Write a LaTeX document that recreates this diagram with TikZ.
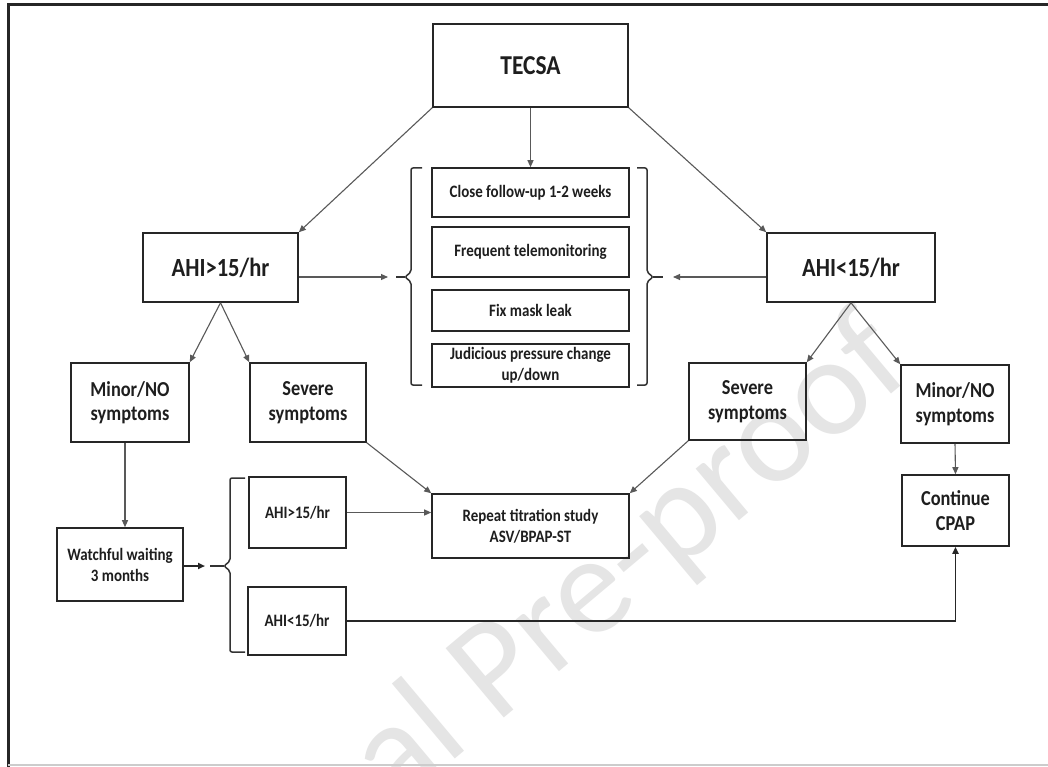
\documentclass[tikz,border=0pt]{standalone}
\usepackage{fontspec}
\setmainfont{Carlito}[FakeStretch=0.86]
\newfontfamily\wmfont{Carlito}
\usetikzlibrary{arrows.meta}
\definecolor{wmgray}{RGB}{229,229,229}
\definecolor{ink}{RGB}{30,30,30}
\begin{document}
\begin{tikzpicture}[x=1pt,y=-1pt,
  box/.style={draw=black!85, line width=1.6pt, inner sep=0pt, align=center,
    text=ink, font=\bfseries\fontsize{17.4}{21}\selectfont},
  big/.style={font=\bfseries\fontsize{26.2}{28}\selectfont},
  huge/.style={font=\bfseries\fontsize{27.3}{29}\selectfont},
  mid/.style={font=\bfseries\fontsize{21.3}{24.5}\selectfont},
  conn/.style={draw=black!65, line width=1.1pt, -{Triangle[length=7pt,width=6pt]}},
  thickconn/.style={draw=black!85, line width=1.8pt, -{Triangle[length=7pt,width=6pt]}},
  brk/.style={draw=black!80, line width=1.5pt, rounded corners=2pt},
  wm/.style={text=wmgray, inner sep=0pt, font=\wmfont\fontsize{141}{141}\selectfont}
]
\useasboundingbox (0,0) rectangle (1048,767);
\clip (0,0) rectangle (1048,767);
\fill[white] (0,0) rectangle (1048,767);

% watermark
\node[wm, rotate=40, anchor=base west] (wmk) at (153,1013) {Journal Pre-proof};

% frame
\draw[black!85, line width=3pt] (1048,5) -- (8,5) -- (8,767);
\draw[black!20, line width=1.5pt] (8,765) -- (1048,765);

% nodes
\node[box, huge, minimum width=195pt, minimum height=83pt] (tecsa) at (530.5,65.5) {TECSA};
\node[box, minimum width=197pt, minimum height=49pt] (c1) at (530.5,192.5) {Close follow-up 1-2 weeks};
\node[box, minimum width=197pt, minimum height=50pt] (c2) at (530.5,252) {Frequent telemonitoring};
\node[box, minimum width=197pt, minimum height=41pt] (c3) at (530.5,310.5) {Fix mask leak};
\node[box, minimum width=197pt, minimum height=43pt] (c4) at (530.5,365.5) {Judicious pressure change\\up/down};

\node[box, big, minimum width=155pt, minimum height=69pt] (ahiH) at (220.5,267.5) {AHI>15/hr};
\node[box, big, minimum width=168pt, minimum height=69pt] (ahiL) at (851,267.5) {AHI<15/hr};

\node[box, mid, minimum width=118pt, minimum height=79pt] (minL) at (130,402.5) {Minor/NO\\symptoms};
\node[box, mid, minimum width=116pt, minimum height=79pt] (sevL) at (308,402.5) {Severe\\symptoms};
\node[box, mid, minimum width=117pt, minimum height=77pt] (sevR) at (747.5,401.5) {Severe\\symptoms};
\node[box, mid, minimum width=108pt, minimum height=78pt] (minR) at (955,404) {Minor/NO\\symptoms};

\node[box, minimum width=126pt, minimum height=73pt] (watch) at (120,564.5) {Watchful waiting\\3 months};
\node[box, minimum width=97pt, minimum height=71pt] (smH) at (297.5,512.5) {AHI>15/hr};
\node[box, minimum width=98pt, minimum height=68pt] (smL) at (297,621) {AHI<15/hr};
\node[box, minimum width=197pt, minimum height=64pt] (rep) at (530.5,526) {Repeat titration study\\ASV/BPAP-ST};
\node[box, mid, minimum width=107pt, minimum height=71pt] (cont) at (955.5,510.5) {Continue\\CPAP};

% bracket end points
\coordinate (bLin) at (388,277);
\coordinate (bRin) at (673,277);
\coordinate (b2in) at (205,566);

% brackets
\draw[brk] (422,168) -- (411,168) -- (411,272) -- (405,277) -- (411,282) -- (411,385) -- (422,385);
\draw[brk] (405,277) -- (396,277);
\draw[brk] (637,168) -- (647,168) -- (647,272) -- (653,277) -- (647,282) -- (647,385) -- (637,385);
\draw[brk] (653,277) -- (663,277);
\draw[brk] (245,478) -- (230,478) -- (230,561) -- (224,566) -- (230,571) -- (230,652) -- (245,652);
\draw[brk] (224,566) -- (210,566);

% connectors
\draw[conn] (tecsa.south) -- (c1.north);
\draw[conn] (tecsa.south west) -- (ahiH.north east);
\draw[conn] (tecsa.south east) -- (ahiL.north west);
\draw[conn] (ahiH.east |- bLin) -- (bLin);
\draw[conn] (ahiL.west |- bRin) -- (bRin);
\draw[conn] (ahiH.south) -- (minL.north east);
\draw[conn] (ahiH.south) -- (sevL.north west);
\draw[conn] (ahiL.south) -- (sevR.north east);
\draw[conn] (ahiL.south) -- (minR.north west);
\draw[conn] ([xshift=-5pt]minL.south) -- ([xshift=5pt]watch.north);
\draw[thickconn] (watch.east |- b2in) -- (b2in);
\draw[conn] (sevL.south east) -- (rep.north west);
\draw[conn] (sevR.south west) -- (rep.north east);
\draw[conn] (smH.east) -- (smH.east -| rep.west);
\draw[conn] (minR.south) -- (cont.north);
\draw[thickconn] (smL.east) -| (cont.south);
\end{tikzpicture}
\end{document}
